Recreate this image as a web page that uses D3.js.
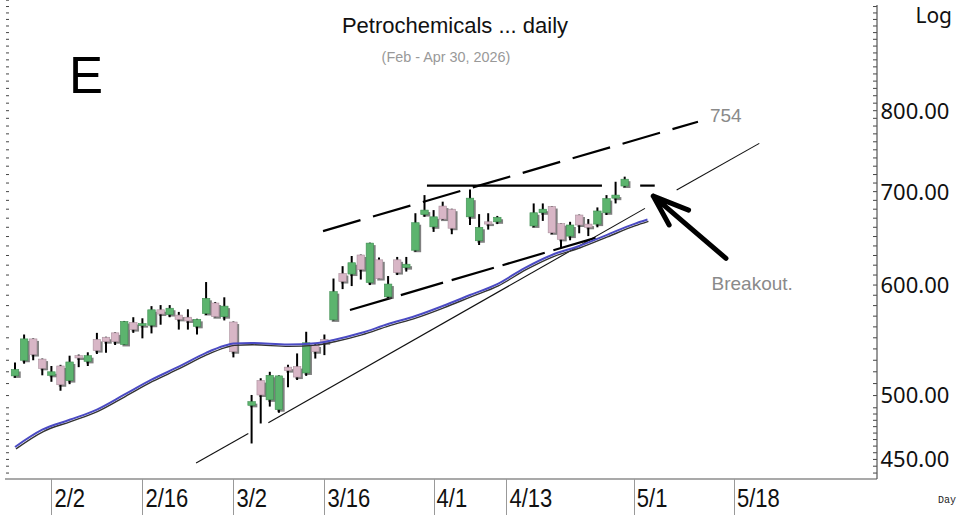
<!DOCTYPE html>
<html>
<head>
<meta charset="utf-8">
<script src="https://cdn.jsdelivr.net/npm/d3@7/dist/d3.min.js"></script>
<style>
  html, body { margin: 0; padding: 0; background: #fff; }
  svg { display: block; }
</style>
</head>
<body>
<svg id="chart" width="958" height="515"></svg>
<script>
// trading-day slot of each candle (empty slots = no session drawn)
const dayIndex = [0,1,2,3,4,5,6,7,8,9,10,11,12,13,14,15,16,17,18,19,20,21,22,23,24,
  26,27,28,29,30,31,32,33,34,35,36,37,38,39,40,41,42,43,44,45,46,47,48,
  50,51,52,53,57,58,59,60,61,62,63,64,65,66,67];
const openPx = [516.5,530,549,531,517,525,512.5,534,529,548.5,550.5,554.5,544,564,561.5,561.5,576,571.5,571,569,560.5,572.5,582.5,569.5,564.5,
  492,512.5,496.5,488.5,524,524.5,519,543.5,548.5,566.5,611.5,611,630.5,602.5,625.5,588.5,625.5,617.5,635.5,674,660.5,683.5,680,
  671.5,645.5,666,666,661.5,676,683,664,650.5,673.5,663.5,663.5,676,692.5,706.5];
const highPx = [528,553,549.5,531.5,525,526,534,535,537,554.5,551,555,565.5,569,568,579.5,580.5,580.5,574,576.5,567.5,603,583.5,588,565,
  500.5,514.5,520,517,526,536,555.5,544.5,553,606.5,619,629.5,631,643.5,628,609,628.5,628.5,675.5,696,679,688.5,680.5,
  702.5,674.5,675.5,672.5,686.5,686.5,683.5,664.5,666,674,669,682,696,711.5,717.5];
const lowPx = [515,527,530,517,511.5,504,509.5,524,525,535.5,536.5,543.5,543.5,554.5,549.5,554,562,569,557.5,557.5,553,571,569,566,532.5,
  462,477.5,491,486,507,513,516.5,531.5,534.5,566,596,599,605.5,600,606,587,610,613.5,634,671.5,655,668,652.5,
  662.5,641,657.5,663.5,660,667,652.5,637.5,646,653.5,650.5,660,673.5,686.5,705];
const closePx = [522,549,535,523,520,509,528.5,532,534,538.5,546.5,546.5,565,557.5,563,576,572,577.5,567,565.5,567,587,569.5,579.5,537.5,
  495,500.5,517,516.5,521,515.5,545.5,537.5,545.5,593.5,603.5,622.5,615.5,643,606.5,601,612.5,621,665,679,671.5,669,659,
  692.5,660,663.5,671,676,680,654,647,662.5,662.5,660,678,692,696,714.5];

// moving average
const maIndex = [0,3,6,9,12,15,18,21,23,24,26,30,33,35,38,41,44,47,50,53,56,59,62,65,68,69.5];
const maValue = [459.3,472.6,480.4,488.6,500.7,513.3,524.4,536.5,542.8,544.8,545.3,543.9,545,548,554.3,562.6,570.1,579.6,590.2,601,617,630.5,640,651.6,663.5,668.5];

// axis labels
const xTickIndex = [4,14,24,34,46,54,68,79];
const xTickLabels = ["2/2","2/16","3/2","3/16","4/1","4/13","5/1","5/18"];
const yTickValues = [450,500,600,700,800];

// hand drawn annotations, in (slot, price)
const trendSegments = [
  [[19.9,447.3],[25.64,469.7]],
  [[27.84,478.0],[69.23,680.9]],
  [[72.71,701.8],[81.79,758.0]]
];
const channelUpper = [[33.85,655.9],[75.05,785.6]];
const channelLower = [[36.81,575.8],[64.29,650.0]];
const resistance = [[[45.27,707],[64.5,707]], [[68.7,707],[70.3,707]]];
const arrowLine = [[78.13,627.0],[70.14,694.9]];
const notes = [
  {text: "754", at: [76.37,785.8]},
  {text: "Breakout.", at: [76.54,595]}
];

const candles = dayIndex.map((d, i) => ({
  i: d, open: openPx[i], high: highPx[i], low: lowPx[i], close: closePx[i]
}));
const maData = maIndex.map((d, i) => [d, maValue[i]]);

const svg = d3.select("#chart");
const plotLeft = 5, plotRight = 877, plotBottom = 479;

const x = d3.scaleLinear().domain([0, 67]).range([15, 624.7]);
const y = d3.scaleLog().domain([435.7, 960.3]).range([plotBottom, 0]);

const line = d3.line().x(d => x(d[0])).y(d => y(d[1]));
const smooth = d3.line().x(d => x(d[0])).y(d => y(d[1])).curve(d3.curveMonotoneX);

// small ticks on both sides of the plot
const minorTicks = d3.range(440, 490, 5).concat(d3.range(490, 961, 10));
svg.append("g").selectAll("line.lt")
  .data(minorTicks)
  .enter().append("line")
  .attr("x1", 6).attr("x2", 9)
  .attr("y1", d => y(d)).attr("y2", d => y(d))
  .attr("stroke", "#444").attr("stroke-width", 1);

svg.append("g").selectAll("line.rt")
  .data(minorTicks.filter(d => y(d) > 5))
  .enter().append("line")
  .attr("x1", plotRight - 4).attr("x2", plotRight)
  .attr("y1", d => y(d)).attr("y2", d => y(d))
  .attr("stroke", "#444").attr("stroke-width", 1);

// right axis line + bottom line
svg.append("line")
  .attr("x1", plotRight).attr("x2", plotRight)
  .attr("y1", 5).attr("y2", plotBottom)
  .attr("stroke", "#555").attr("stroke-width", 1.2);
svg.append("line")
  .attr("x1", plotLeft).attr("x2", plotRight)
  .attr("y1", plotBottom).attr("y2", plotBottom)
  .attr("stroke", "#555").attr("stroke-width", 1.2);

// y labels
svg.append("g").selectAll("text")
  .data(yTickValues)
  .enter().append("text")
  .attr("x", 880.5)
  .attr("y", d => y(d))
  .attr("dy", "0.36em")
  .style("font-family", "'Noto Sans', sans-serif")
  .style("font-size", "22px")
  .attr("fill", "#111")
  .text(d => d3.format(".2f")(d));

svg.append("text")
  .attr("x", 952).attr("y", 23)
  .attr("text-anchor", "end")
  .style("font-family", "'Noto Sans', sans-serif")
  .style("font-size", "21px")
  .attr("fill", "#111")
  .text("Log");

// x axis dividers and labels
const xg = svg.append("g");
xg.selectAll("line")
  .data(xTickIndex)
  .enter().append("line")
  .attr("x1", d => Math.round(x(d)) + 0.5).attr("x2", d => Math.round(x(d)) + 0.5)
  .attr("y1", plotBottom).attr("y2", 515)
  .attr("stroke", "#999").attr("stroke-width", 1);
xg.selectAll("text")
  .data(xTickIndex)
  .enter().append("text")
  .attr("transform", d => `translate(${x(d) + 3},507) scale(0.88,1)`)
  .style("font-family", "'Liberation Sans', Arial, sans-serif")
  .style("font-size", "25px")
  .attr("fill", "#111")
  .text((d, i) => xTickLabels[i]);

svg.append("text")
  .attr("x", 938).attr("y", 503)
  .style("font-family", "'Liberation Mono', monospace")
  .style("font-size", "10px")
  .attr("fill", "#222")
  .text("Day");

// titles
svg.append("text")
  .attr("x", 455).attr("y", 32.5)
  .attr("text-anchor", "middle")
  .style("font-family", "'Liberation Sans', Arial, sans-serif")
  .style("font-size", "22px")
  .attr("fill", "#111")
  .text("Petrochemicals ... daily");
svg.append("text")
  .attr("x", 446).attr("y", 61.5)
  .attr("text-anchor", "middle")
  .style("font-family", "'Liberation Sans', Arial, sans-serif")
  .style("font-size", "14.4px")
  .attr("fill", "#999")
  .text("(Feb - Apr 30, 2026)");
svg.append("text")
  .attr("x", 69).attr("y", 93)
  .style("font-family", "'Liberation Sans', Arial, sans-serif")
  .style("font-size", "51px")
  .attr("fill", "#000")
  .text("E");

// trend lines
const ann = svg.append("g");
ann.selectAll("path.trend")
  .data(trendSegments)
  .enter().append("path")
  .attr("d", line)
  .attr("fill", "none").attr("stroke", "#111").attr("stroke-width", 1.1);

ann.append("path")
  .attr("d", line(channelUpper))
  .attr("fill", "none").attr("stroke", "#000").attr("stroke-width", 2.2)
  .attr("stroke-dasharray", "39,13");
ann.append("path")
  .attr("d", line(channelLower))
  .attr("fill", "none").attr("stroke", "#000").attr("stroke-width", 2.2)
  .attr("stroke-dasharray", "44,9");
ann.selectAll("path.res")
  .data(resistance)
  .enter().append("path")
  .attr("d", line)
  .attr("fill", "none").attr("stroke", "#000").attr("stroke-width", 2.2);

// candles
const bodyW = 7.5;
const cg = svg.append("g");
const bodyTop = d => y(Math.max(d.open, d.close));
const bodyH = d => Math.max(2, y(Math.min(d.open, d.close)) - y(Math.max(d.open, d.close)));

cg.selectAll("rect.shadow")
  .data(candles)
  .enter().append("rect")
  .attr("x", d => x(d.i) - bodyW / 2 + 2)
  .attr("y", d => bodyTop(d) + 2)
  .attr("width", bodyW).attr("height", bodyH)
  .attr("fill", "#555").attr("opacity", 0.75);

cg.selectAll("line.wick")
  .data(candles)
  .enter().append("line")
  .attr("x1", d => x(d.i)).attr("x2", d => x(d.i))
  .attr("y1", d => y(d.high)).attr("y2", d => y(d.low))
  .attr("stroke", "#000").attr("stroke-width", 2);

cg.selectAll("rect.body")
  .data(candles)
  .enter().append("rect")
  .attr("x", d => x(d.i) - bodyW / 2)
  .attr("y", bodyTop)
  .attr("width", bodyW).attr("height", bodyH)
  .attr("fill", d => d.close >= d.open ? "#5cb46e" : "#d8b6c6")
  .attr("stroke", d => d.close >= d.open ? "#3f8d52" : "#a98f9c")
  .attr("stroke-width", 0.6);

// moving average with its dark shadow
svg.append("path")
  .attr("d", smooth(maData))
  .attr("transform", "translate(1,1.8)")
  .attr("fill", "none").attr("stroke", "#333").attr("stroke-width", 1.4);
svg.append("path")
  .attr("d", smooth(maData))
  .attr("fill", "none").attr("stroke", "#4b4bc4").attr("stroke-width", 2);

// arrow
const tail = [x(arrowLine[0][0]), y(arrowLine[0][1])];
const tip = [x(arrowLine[1][0]), y(arrowLine[1][1])];
const ang = Math.atan2(tail[1] - tip[1], tail[0] - tip[0]);
const wing = (a, len) => [tip[0] + len * Math.cos(ang + a), tip[1] + len * Math.sin(ang + a)];
const arrowPath = d3.path();
arrowPath.moveTo(tail[0], tail[1]);
arrowPath.lineTo(tip[0], tip[1]);
const w1 = wing(0.36, 33), w2 = wing(-0.33, 38);
arrowPath.moveTo(w1[0], w1[1]);
arrowPath.lineTo(tip[0], tip[1]);
arrowPath.lineTo(w2[0], w2[1]);
svg.append("path")
  .attr("d", arrowPath.toString())
  .attr("fill", "none").attr("stroke", "#000").attr("stroke-width", 5)
  .attr("stroke-linecap", "round").attr("stroke-linejoin", "round");

// notes
svg.append("g").selectAll("text")
  .data(notes)
  .enter().append("text")
  .attr("x", d => x(d.at[0])).attr("y", d => y(d.at[1]))
  .style("font-family", "'Liberation Sans', Arial, sans-serif")
  .style("font-size", "19px")
  .attr("fill", "#8a8a8a")
  .text(d => d.text);
</script>
</body>
</html>
